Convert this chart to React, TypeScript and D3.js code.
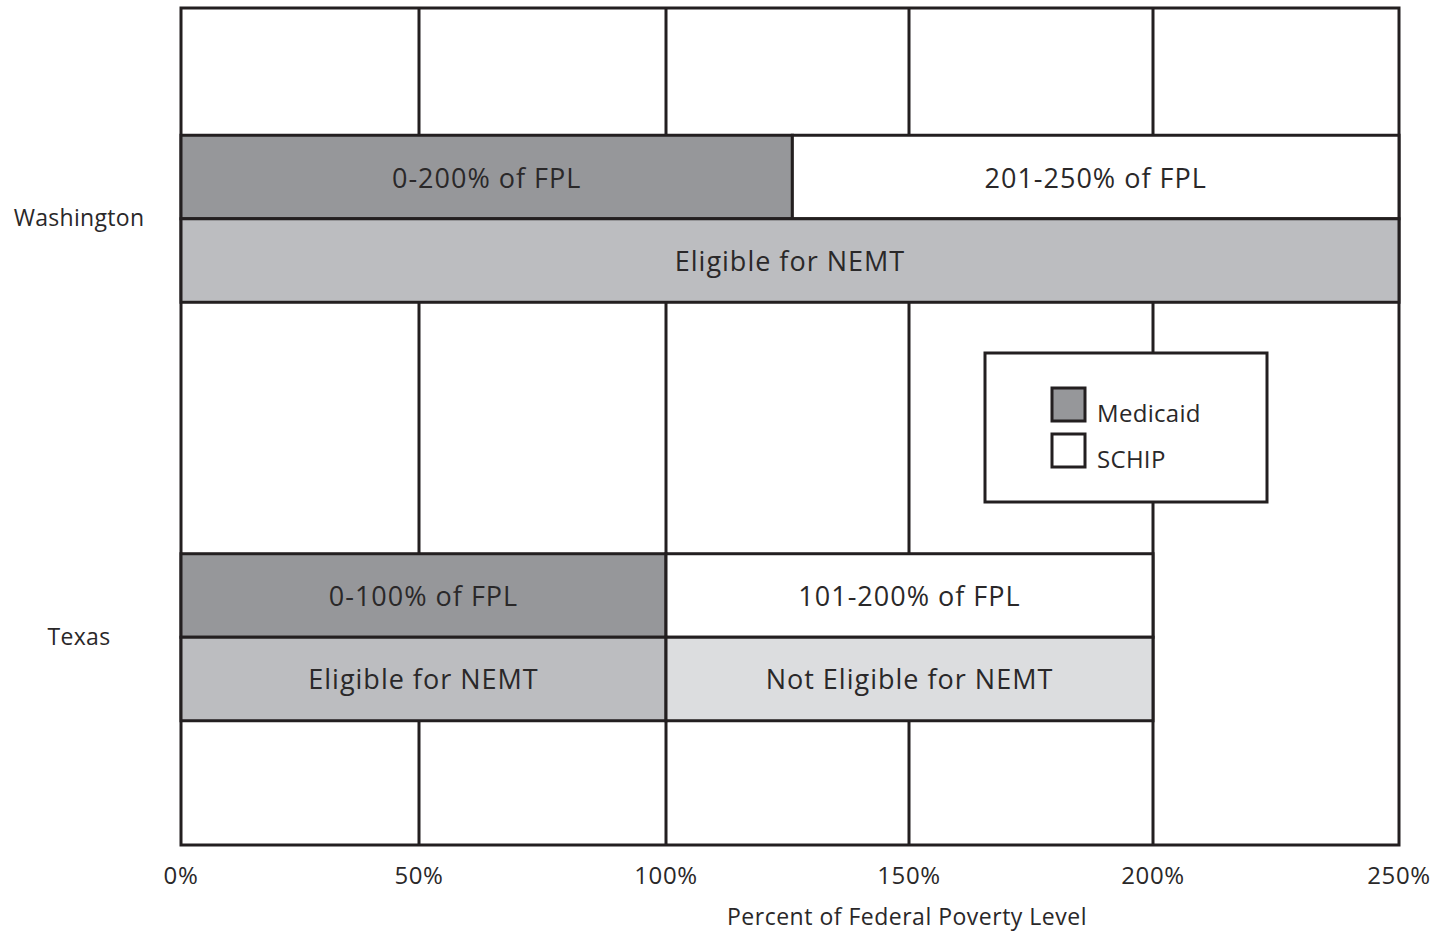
import React from "react";
import * as d3 from "d3";

// ---- Data ----
const states = ["Washington", "Texas"];
const programs = ["Medicaid", "SCHIP"];
const xTicks = [0, 50, 100, 150, 200, 250];

// Program coverage bars (positions on the drawn percent axis)
const programStart = { Washington: [0, 126], Texas: [0, 100] };
const programEnd = { Washington: [126, 250], Texas: [100, 200] };
const programLabels = {
  Washington: ["0-200% of FPL", "201-250% of FPL"],
  Texas: ["0-100% of FPL", "101-200% of FPL"],
};

// NEMT eligibility bars
const nemtStart = { Washington: [0], Texas: [0, 100] };
const nemtEnd = { Washington: [250], Texas: [100, 200] };
const nemtEligible = { Washington: [true], Texas: [true, false] };
const nemtLabels = {
  Washington: ["Eligible for NEMT"],
  Texas: ["Eligible for NEMT", "Not Eligible for NEMT"],
};

const xTitle = "Percent of Federal Poverty Level";

// ---- Styles ----
const INK = "#231f20";
const TEXT = "#2a2829";
const FONT = "'Open Sans', 'DejaVu Sans', sans-serif";
const programFill = { Medicaid: "#96979a", SCHIP: "#ffffff" };
const nemtFill = { true: "#bcbdc0", false: "#dcdddf" };

export default function App() {
  const W = 1439;
  const H = 932;
  const top = 8;
  const bottom = 845;

  // piecewise range follows the printed gridline spacing
  const x = d3
    .scaleLinear()
    .domain(xTicks)
    .range([181, 419, 666, 909, 1153, 1399]);
  const left = x(0);
  const right = x(250);

  const y = d3
    .scaleBand<string>()
    .domain(states)
    .range([top, bottom])
    .paddingInner(0.6033)
    .paddingOuter(0.3017);
  const sub = d3
    .scaleBand<string>()
    .domain(["program", "nemt"])
    .range([1, y.bandwidth() + 2]);

  const sw = 3;
  const barFont = 27;
  const barLs = 1.0;

  return (
    <svg
      width={W}
      height={H}
      style={{ position: "absolute", left: 0, top: 0, background: "#fff" }}
      fontFamily={FONT}
    >
      <rect x={0} y={0} width={W} height={H} fill="#fff" />
      {/* vertical gridlines */}
      {xTicks.slice(1, -1).map((t) => (
        <line
          key={"g" + t}
          x1={x(t)}
          x2={x(t)}
          y1={top}
          y2={bottom}
          stroke={INK}
          strokeWidth={sw}
        />
      ))}
      {/* frame */}
      <rect
        x={left}
        y={top}
        width={right - left}
        height={bottom - top}
        fill="none"
        stroke={INK}
        strokeWidth={sw}
      />

      {states.map((s) => {
        const y0 = y(s)!;
        const py = y0 + sub("program")!;
        const ny = y0 + sub("nemt")!;
        const h = sub.bandwidth();
        return (
          <g key={s}>
            {programStart[s].map((a: number, i: number) => {
              const b = programEnd[s][i];
              return (
                <g key={"p" + i}>
                  <rect
                    x={x(a)}
                    y={py}
                    width={x(b) - x(a)}
                    height={h}
                    fill={programFill[programs[i]]}
                    stroke={INK}
                    strokeWidth={sw}
                  />
                  <text
                    x={(x(a) + x(b)) / 2}
                    y={py + h / 2}
                    textAnchor="middle"
                    dominantBaseline="central"
                    fontSize={barFont}
                    letterSpacing={barLs}
                    fill={TEXT}
                  >
                    {programLabels[s][i]}
                  </text>
                </g>
              );
            })}
            {nemtStart[s].map((a: number, i: number) => {
              const b = nemtEnd[s][i];
              return (
                <g key={"n" + i}>
                  <rect
                    x={x(a)}
                    y={ny}
                    width={x(b) - x(a)}
                    height={h}
                    fill={nemtFill[String(nemtEligible[s][i])]}
                    stroke={INK}
                    strokeWidth={sw}
                  />
                  <text
                    x={(x(a) + x(b)) / 2}
                    y={ny + h / 2}
                    textAnchor="middle"
                    dominantBaseline="central"
                    fontSize={barFont}
                    letterSpacing={barLs}
                    fill={TEXT}
                  >
                    {nemtLabels[s][i]}
                  </text>
                </g>
              );
            })}
            <text
              x={79}
              y={y0 + y.bandwidth() / 2}
              textAnchor="middle"
              dominantBaseline="central"
              fontSize={23}
              letterSpacing={0.3}
              fill={TEXT}
            >
              {s}
            </text>
          </g>
        );
      })}

      {/* x tick labels */}
      {xTicks.map((t) => (
        <text
          key={"t" + t}
          x={x(t)}
          y={884}
          textAnchor="middle"
          fontSize={24}
          letterSpacing={0.6}
          fill={TEXT}
        >
          {t + "%"}
        </text>
      ))}
      <text
        x={907}
        y={925}
        textAnchor="middle"
        fontSize={23}
        letterSpacing={0.5}
        fill={TEXT}
      >
        {xTitle}
      </text>

      {/* legend */}
      <g>
        <rect
          x={985}
          y={353}
          width={282}
          height={149}
          fill="#fff"
          stroke={INK}
          strokeWidth={sw}
        />
        {programs.map((p, i) => (
          <g key={p} transform={`translate(1052, ${388 + i * 46})`}>
            <rect
              x={0}
              y={0}
              width={33}
              height={33}
              fill={programFill[p]}
              stroke={INK}
              strokeWidth={sw}
            />
            <text x={45} y={34} fontSize={24} letterSpacing={0.3} fill={TEXT}>
              {p}
            </text>
          </g>
        ))}
      </g>
    </svg>
  );
}
